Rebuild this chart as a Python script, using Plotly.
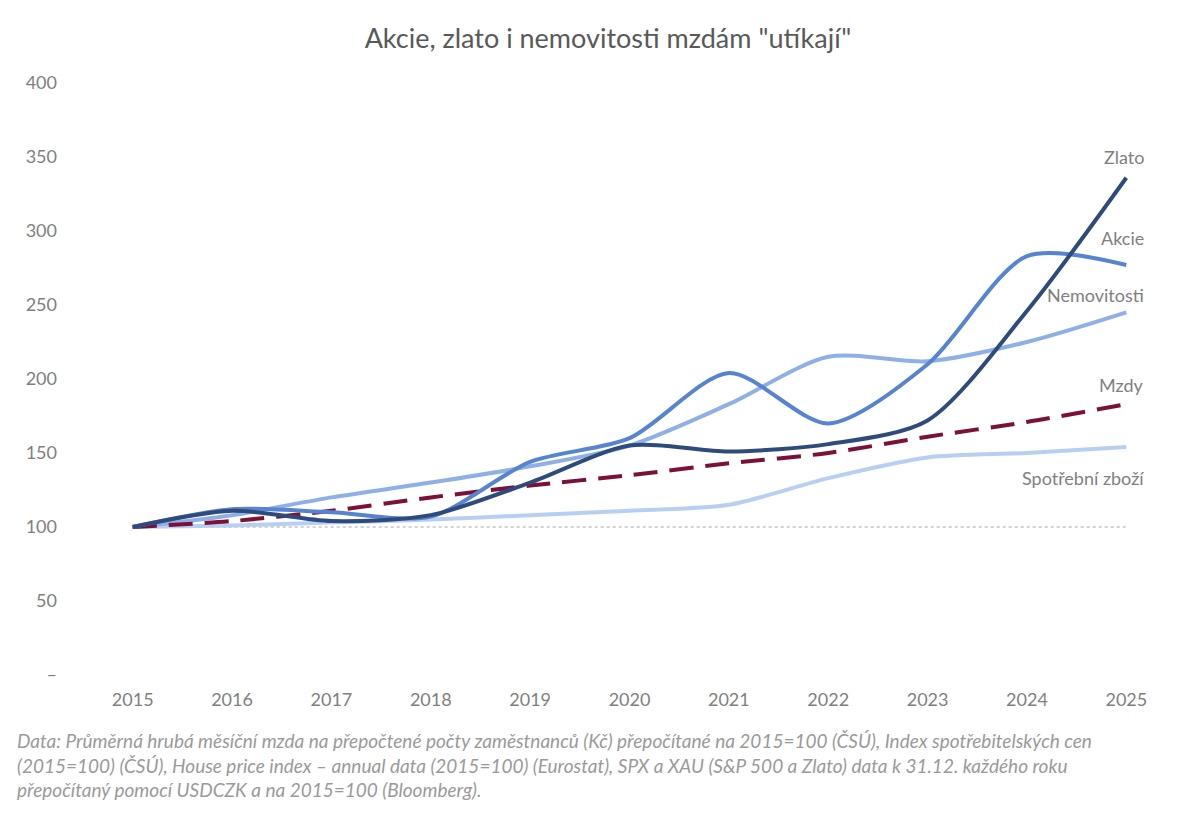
import plotly.graph_objects as go

years = list(range(2015, 2026))
zlato = [100, 111, 104, 108, 130, 155, 151, 156, 172, 246, 336]
akcie = [100, 112, 110, 107, 144, 160, 204, 170, 210, 283, 277]
nemovitosti = [100, 108, 120, 130, 141, 155, 183, 215, 212, 225, 245]
mzdy = [100, 104, 111, 120, 128, 135, 143, 150, 161, 171, 183]
spotrebni = [100, 101, 103, 105, 108, 111, 115, 133, 147, 150, 154]

y_ticks = [0, 50, 100, 150, 200, 250, 300, 350, 400]
y_labels = ["–", "50", "100", "150", "200", "250", "300", "350", "400"]

FONT = "Lato"
GREY = "#7f7f7f"

fig = go.Figure()

# baseline 100
fig.add_trace(go.Scatter(x=[years[0], years[-1]], y=[100, 100], mode="lines",
                         line=dict(color="#a6a6a6", width=1, dash="dot"),
                         showlegend=False, hoverinfo="skip"))

series = [
    ("Spotřební zboží", spotrebni, "#b8cff4", "solid"),
    ("Nemovitosti", nemovitosti, "#8eb0e6", "solid"),
    ("Mzdy", mzdy, "#7b1038", "24px,12px"),
    ("Akcie", akcie, "#5784d0", "solid"),
    ("Zlato", zlato, "#2f4a7c", "solid"),
]
for name, vals, color, dash in series:
    fig.add_trace(go.Scatter(x=years, y=vals, mode="lines", name=name,
                             line=dict(color=color, width=4, dash=dash, shape="spline",
                                       smoothing=0.8),
                             showlegend=False))

# end labels
labels = [("Zlato", 350), ("Akcie", 295), ("Nemovitosti", 257), ("Mzdy", 196), ("Spotřební zboží", 133)]
for text, yv in labels:
    fig.add_annotation(x=2025.2, y=yv, text=text, showarrow=False, xanchor="right",
                       font=dict(family=FONT, size=18, color=GREY))

fig.add_annotation(
    xref="paper", yref="paper", x=-0.062, y=-0.088, xanchor="left", yanchor="top",
    align="left", showarrow=False,
    text=("<i>Data: Průměrná hrubá měsíční mzda na přepočtené počty zaměstnanců (Kč) přepočítané na 2015=100 (ČSÚ), Index spotřebitelských cen<br>"
          "(2015=100) (ČSÚ), House price index – annual data (2015=100) (Eurostat), SPX a XAU (S&amp;P 500 a Zlato) data k 31.12. každého roku<br>"
          "přepočítaný pomocí USDCZK a na 2015=100 (Bloomberg).</i>"),
    font=dict(family=FONT, size=19, color="#9a9a9a"),
)

fig.update_layout(
    width=1200, height=829,
    paper_bgcolor="white", plot_bgcolor="white",
    margin=dict(l=75, r=32, t=75, b=162, autoexpand=False),
    title=dict(text='Akcie, zlato i nemovitosti mzdám "utíkají"', x=0.5, y=0.975,
               xanchor="center", font=dict(family=FONT, size=27, color="#595959")),
    font=dict(family=FONT, color=GREY),
)
fig.update_xaxes(range=[2014.5, 2025.5], tickmode="array", tickvals=years,
                 ticktext=[str(y) for y in years], showgrid=False, zeroline=False,
                 tickfont=dict(size=18, color=GREY), ticks="", ticklabelstandoff=12,
                 automargin=False)
fig.update_yaxes(range=[0, 400], tickmode="array", tickvals=y_ticks, ticktext=y_labels,
                 showgrid=False, zeroline=False, tickfont=dict(size=18, color=GREY),
                 ticklabelposition="outside left", ticklabelstandoff=25, automargin=False)

fig.write_html("out.html")
